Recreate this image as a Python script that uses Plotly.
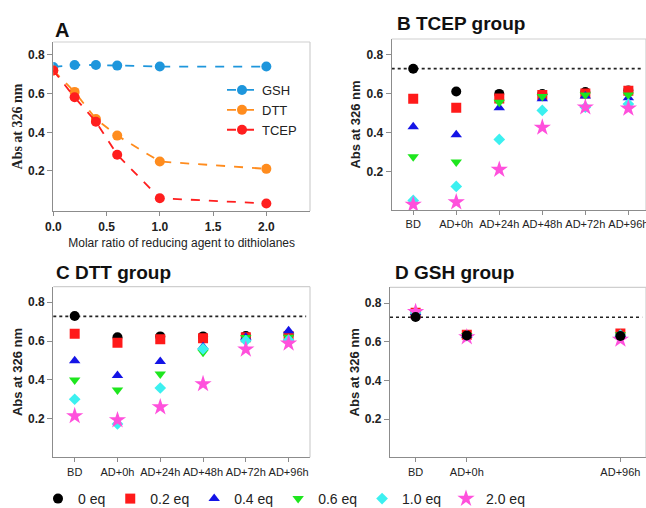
import plotly.graph_objects as go

W, H = 646, 508

# ---------------- data ----------------
ratio = [0.0, 0.2, 0.4, 0.6, 1.0, 2.0]
gsh_a = [0.738, 0.748, 0.748, 0.745, 0.740, 0.740]
dtt_a = [0.720, 0.609, 0.469, 0.383, 0.249, 0.211]
tcep_a = [0.720, 0.581, 0.455, 0.284, 0.059, 0.032]

times = ["BD", "AD+0h", "AD+24h", "AD+48h", "AD+72h", "AD+96h"]
eq_labels = ["0 eq", "0.2 eq", "0.4 eq", "0.6 eq", "1.0 eq", "2.0 eq"]

# B TCEP group (rows = eq level, cols = times)
tcep_b = [
    [0.726, 0.610, 0.598, 0.597, 0.608, 0.616],
    [0.573, 0.528, 0.574, 0.593, 0.600, 0.614],
    [0.431, 0.390, 0.528, 0.573, 0.587, 0.579],
    [0.277, 0.251, 0.556, 0.585, 0.592, 0.592],
    [0.055, 0.126, 0.366, 0.514, 0.530, 0.546],
    [0.034, 0.046, 0.212, 0.427, 0.530, 0.524],
]
# C DTT group
dtt_c = [
    [0.729, 0.619, 0.624, 0.624, 0.626, 0.633],
    [0.638, 0.591, 0.609, 0.614, 0.620, 0.626],
    [0.499, 0.423, 0.494, 0.571, 0.620, 0.653],
    [0.399, 0.348, 0.430, 0.542, 0.618, 0.620],
    [0.300, 0.173, 0.358, 0.560, 0.602, 0.605],
    [0.214, 0.193, 0.260, 0.379, 0.557, 0.588],
]
# D GSH group
d_times = ["BD", "AD+0h", "AD+96h"]
d_pos = [0, 1, 4]
gsh_d = [
    [0.728, 0.633, 0.630],
    [0.750, 0.636, 0.643],
    [0.752, 0.634, 0.638],
    [0.748, 0.633, 0.636],
    [0.750, 0.632, 0.634],
    [0.755, 0.624, 0.612],
]
ref_level = 0.727

# ---------------- styles ----------------
FONT = "Arial, Liberation Sans, sans-serif"
eq_colors = ["#000000", "#ff1a1a", "#1414e6", "#1ee61e", "#3cf0f0", "#ff50dc"]
eq_symbols = ["circle", "square", "triangle-up", "triangle-down", "diamond", "star"]
eq_sizes = [10, 10, 10, 10, 9, 13]
a_colors = {"GSH": "#1e96dc", "DTT": "#ff8c1e", "TCEP": "#ff1e1e"}

fig = go.Figure()

# Panel A
for name, vals in [("GSH", gsh_a), ("DTT", dtt_a), ("TCEP", tcep_a)]:
    fig.add_trace(go.Scatter(
        x=ratio, y=vals, name=name, mode="lines+markers",
        line=dict(color=a_colors[name], dash="dash", width=1.8),
        marker=dict(color=a_colors[name], size=10),
        xaxis="x", yaxis="y", legend="legend2"))

# Panels B, C, D
for i in range(6):
    common = dict(mode="markers", name=eq_labels[i], legendgroup=eq_labels[i],
                  marker=dict(color=eq_colors[i], symbol=eq_symbols[i], size=eq_sizes[i],
                              line=dict(width=0)))
    fig.add_trace(go.Scatter(x=times, y=tcep_b[i], xaxis="x2", yaxis="y2",
                             showlegend=True, **common))
for i in range(6):
    common = dict(mode="markers", name=eq_labels[i], legendgroup=eq_labels[i],
                  marker=dict(color=eq_colors[i], symbol=eq_symbols[i], size=eq_sizes[i],
                              line=dict(width=0)))
    fig.add_trace(go.Scatter(x=times, y=dtt_c[i], xaxis="x3", yaxis="y3",
                             showlegend=False, **common))
# draw GSH group from highest eq to lowest so black sits on top (as in reference)
for i in list(range(1, 6)) + [0]:
    common = dict(mode="markers", name=eq_labels[i], legendgroup=eq_labels[i],
                  marker=dict(color=eq_colors[i], symbol=eq_symbols[i], size=eq_sizes[i],
                              line=dict(width=0)))
    fig.add_trace(go.Scatter(x=d_pos, y=gsh_d[i], xaxis="x4", yaxis="y4",
                             showlegend=False, **common))

def px_x(a, b):
    return [a / W, b / W]

def px_y(top, bottom):
    return [(H - bottom) / H, (H - top) / H]

AXCOL = "#8c8c8c"
tickfont_b = dict(family=FONT, size=12, color="#222", weight="bold")
tickfont_r = dict(family=FONT, size=11, color="#222")

yax_common = dict(showline=True, linecolor=AXCOL, linewidth=1.2, ticks="outside",
                  ticklen=5, tickcolor=AXCOL, showgrid=False, zeroline=False,
                  tickvals=[0.2, 0.4, 0.6, 0.8], ticktext=["0.2", "0.4", "0.6", "0.8"],
                  tickfont=tickfont_b)
xax_common = dict(showline=True, linecolor=AXCOL, linewidth=1.2, ticks="outside",
                  ticklen=4, tickcolor=AXCOL, showgrid=False, zeroline=False)

ytitle_font = dict(family=FONT, size=13, color="#222")

fig.update_layout(
    width=W, height=H, margin=dict(l=0, r=0, t=0, b=0, autoexpand=False),
    paper_bgcolor="white", plot_bgcolor="white",
    font=dict(family=FONT, color="#222"),
    xaxis=dict(domain=px_x(53.3, 310), range=[0, 2.41], anchor="y",
               tickvals=[0, 0.5, 1.0, 1.5, 2.0], ticktext=["0.0", "0.5", "1.0", "1.5", "2.0"],
               tickfont=tickfont_b,
               title=dict(text="Molar ratio of reducing agent to dithiolanes",
                          font=dict(family=FONT, size=12, color="#222"), standoff=6),
               **xax_common),
    yaxis=dict(domain=px_y(42, 211), range=[-0.007, 0.867], anchor="x",
               title=dict(text="<b>Abs at 326 nm</b>",
                          font=dict(family="Liberation Serif, Times New Roman, serif",
                                    size=14, color="#222"), standoff=2),
               **yax_common),
    xaxis2=dict(domain=px_x(391.7, 646), range=[-0.5, 5.41], anchor="y2",
                type="category", categoryarray=times, tickfont=tickfont_r, **xax_common),
    yaxis2=dict(domain=px_y(39, 210), range=[0.006, 0.878], anchor="x2",
                title=dict(text="<b>Abs at 326 nm</b>", font=ytitle_font, standoff=2),
                **yax_common),
    xaxis3=dict(domain=px_x(53.3, 310), range=[-0.5, 5.5], anchor="y3",
                type="category", categoryarray=times, tickfont=tickfont_r, **xax_common),
    yaxis3=dict(domain=px_y(286.7, 457.3), range=[0.001, 0.88], anchor="x3",
                title=dict(text="<b>Abs at 326 nm</b>", font=ytitle_font, standoff=2),
                **yax_common),
    xaxis4=dict(domain=px_x(390, 646), range=[-0.5, 4.5], anchor="y4",
                tickvals=d_pos, ticktext=d_times, tickfont=tickfont_r, **xax_common),
    yaxis4=dict(domain=px_y(287.3, 457.3), range=[0.002, 0.882], anchor="x4",
                title=dict(text="<b>Abs at 326 nm</b>", font=ytitle_font, standoff=2),
                **yax_common),
    legend=dict(orientation="h", x=(38) / W, xanchor="left", y=(H - 499) / H, yanchor="middle",
                font=dict(family=FONT, size=14, color="#222"), bgcolor="rgba(0,0,0,0)",
                itemsizing="trace"),
    legend2=dict(x=(222) / W, xanchor="left", y=(H - 75) / H, yanchor="top",
                 font=dict(family=FONT, size=13, color="#222"), bgcolor="rgba(0,0,0,0)",
                 tracegroupgap=0),
    showlegend=True,
)

# light box borders (top and right)
BOX = "#cfcfcf"
for xr, yr in [("x", "y"), ("x2", "y2"), ("x3", "y3"), ("x4", "y4")]:
    fig.add_shape(type="line", xref=f"{xr} domain", yref=f"{yr} domain",
                  x0=0, x1=1, y0=1, y1=1, line=dict(color=BOX, width=1.2))
    fig.add_shape(type="line", xref=f"{xr} domain", yref=f"{yr} domain",
                  x0=1, x1=1, y0=0, y1=1, line=dict(color=BOX, width=1.2))

# dotted reference line in B, C, D
for xr, yr in [("x2", "y2"), ("x3", "y3"), ("x4", "y4")]:
    fig.add_shape(type="line", xref=f"{xr} domain", yref=yr, x0=0, x1=0.985,
                  y0=ref_level, y1=ref_level, line=dict(color="#222", width=1.6, dash="dot"),
                  layer="below")

# panel titles
titles = [("A", 53, 30, 20), ("B TCEP group", 395, 23, 19),
          ("C DTT group", 54, 273, 19), ("D GSH group", 393, 273, 19)]
for txt, x, y, s in titles:
    fig.add_annotation(text=f"<b>{txt}</b>", xref="paper", yref="paper",
                       x=x / W, y=(H - y) / H, xanchor="left", yanchor="middle",
                       showarrow=False, font=dict(family=FONT, size=s, color="#111"))

fig.write_html("out.html", config={"displayModeBar": False},
               post_script="document.body.style.margin='0px';document.body.style.overflow='hidden';")
